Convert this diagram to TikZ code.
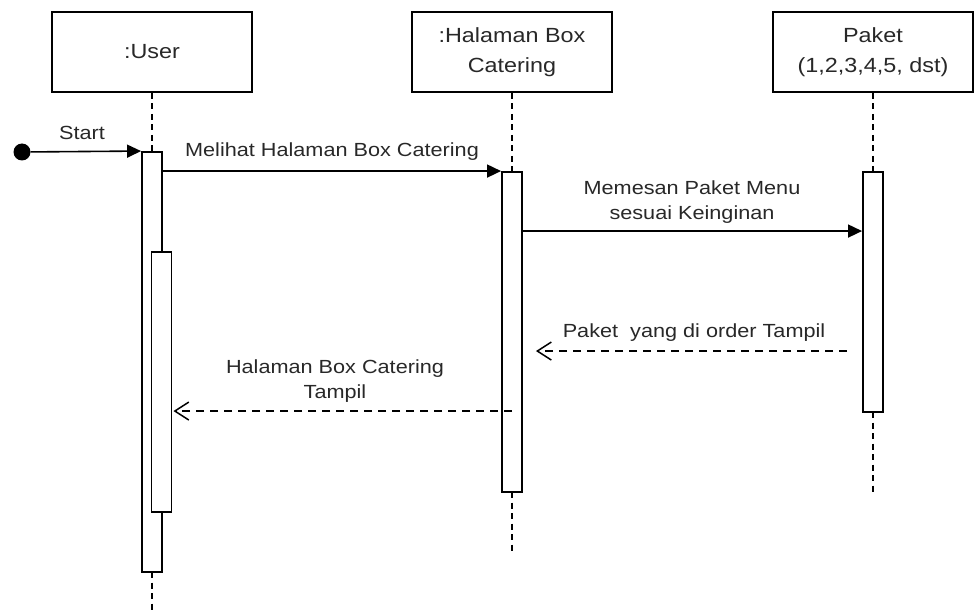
\documentclass[tikz,border=0pt]{standalone}
\usepackage{fontspec}
\setmainfont{Liberation Sans}[FakeStretch=1.14]
\usetikzlibrary{arrows.meta,calc}
\definecolor{txt}{RGB}{40,40,40}
\begin{document}
\begin{tikzpicture}[x=1pt,y=-1pt,
 obj/.style={draw, line width=1.9pt, minimum width=200pt, minimum height=80pt, inner sep=0pt, align=center, font=\fontsize{20.5}{30}\selectfont, text=txt},
 act/.style={draw, fill=white, line width=1.9pt, minimum width=20pt, inner sep=0pt},
 life/.style={line width=1.7pt, dash pattern=on 6pt off 4.5pt},
 msg/.style={line width=1.6pt, -{Triangle[length=14pt,width=13pt]}},
 ret/.style={line width=1.5pt, dash pattern=on 8pt off 6pt, -{Straight Barb[length=14pt,width=18pt,line width=1.5pt]}},
 lbl/.style={font=\fontsize{19}{25}\selectfont, text=txt, align=center, inner sep=0pt}
]
\useasboundingbox (0,0) rectangle (979,612);
% objects
\node[obj] (user) at (152,52) {:User};
\node[obj] (hal) at (512,52) {:Halaman Box\\Catering};
\node[obj] (pak) at (873,52) {Paket\\(1,2,3,4,5, dst)};
% lifeline end points
\coordinate (uend) at (152,612);
\coordinate (hend) at (512,553);
\coordinate (pend) at (873,492);
% activation geometry (positions only)
\path (152,362) coordinate (uapos) (161.5,382) coordinate (uipos) (512,332) coordinate (hapos) (873,292) coordinate (papos);
% lifelines
\draw[life] (user.south) -- (uapos |- 0,152);
\draw[life] (uapos |- 0,572) -- (uend);
\draw[life] (hal.south) -- (hapos |- 0,172);
\draw[life] (hapos |- 0,492) -- (hend);
\draw[life] (pak.south) -- (papos |- 0,172);
\draw[life] (papos |- 0,412) -- (pend);
% activations
\node[act, minimum height=420pt] (ua) at (uapos) {};
\node[act, minimum height=260pt] (ui) at (uipos) {};
\node[act, minimum height=320pt] (ha) at (hapos) {};
\node[act, minimum height=240pt] (pa) at (papos) {};
% start
\node[circle, fill=black, minimum size=17pt, inner sep=0pt] (start) at (22,152) {};
\draw[msg] (start) -- (ua.north west);
% messages
\draw[msg] (ua.east |- ha.north) -- (ha.north west);
\draw[msg] ($(ha.north east)+(0,60)$) -- ($(pa.north west)+(0,60)$);
\draw[ret] ($(pa.north west)+(-15,180)$) -- ($(ha.north east)+(13,180)$);
\draw[ret] ($(ha.north)+(0,240)$) -- ($(ui.north east)+(1,160)$);
% labels
\node[lbl] (l0) at (82,133) {Start};
\node[lbl] (l1) at (332,152) {Melihat Halaman Box Catering};
\node[lbl] (l2) at (692,202) {Memesan Paket Menu\\sesuai Keinginan};
\node[lbl] (l3) at (694,333) {Paket\ \ yang di order Tampil};
\node[lbl] (l4) at (335,381) {Halaman Box Catering\\Tampil};
\end{tikzpicture}
\end{document}
